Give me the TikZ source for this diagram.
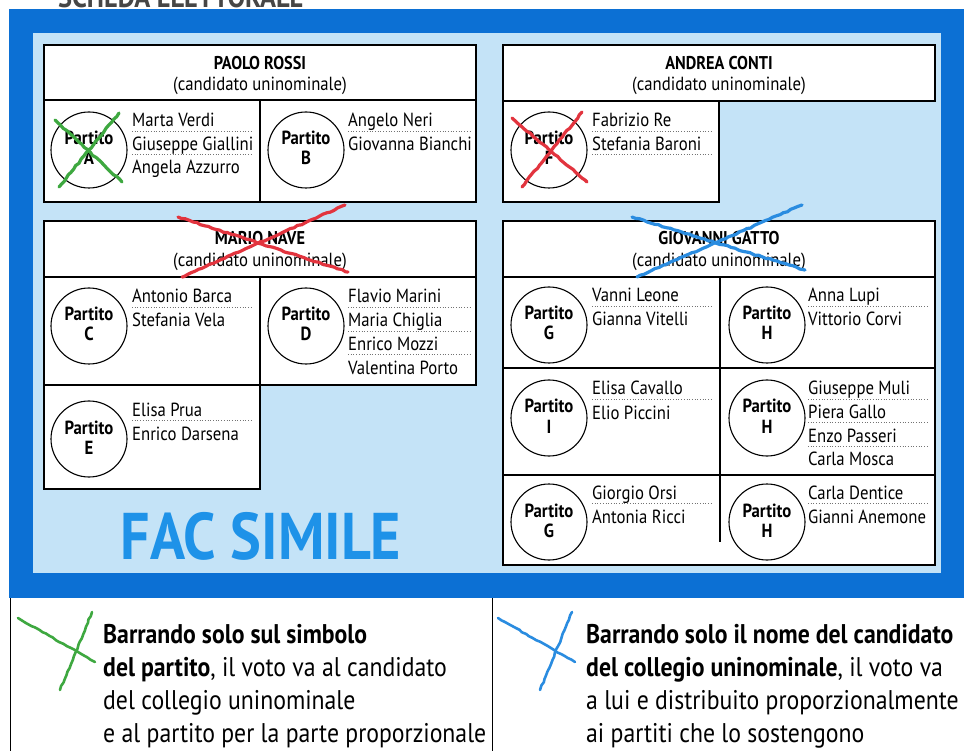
\documentclass[tikz,border=0pt]{standalone}
\usepackage{fontspec}
\setmainfont[FakeStretch=0.88]{PT Sans}
\usetikzlibrary{decorations.pathmorphing}
\definecolor{frameblue}{RGB}{12,112,212}
\definecolor{lightblue}{RGB}{196,227,247}
\definecolor{facblue}{RGB}{30,146,232}
\definecolor{xgreen}{RGB}{62,168,64}
\definecolor{xred}{RGB}{226,52,62}
\definecolor{xblue}{RGB}{42,140,224}
\definecolor{titlegray}{RGB}{70,70,70}
\tikzset{
  box/.style={draw=black, line width=1.3pt, fill=white},
  rule/.style={draw=black, line width=1.3pt},
  hdrname/.style={font=\bfseries\fontsize{18.5}{18.5}\selectfont, anchor=base, inner sep=0pt},
  hdrsub/.style={font=\fontsize{19}{19}\selectfont, anchor=base, inner sep=0pt},
  pcircle/.style={draw=black, circle, minimum size=76pt, line width=1.1pt, inner sep=0pt},
  ptext/.style={font=\bfseries\fontsize{19}{19}\selectfont, anchor=base, inner sep=0pt},
  cname/.style={font=\fontsize{19}{19}\selectfont, anchor=base west, inner sep=0pt},
  dotline/.style={draw=black!55, dotted, line width=0.7pt},
  crayon/.style={line width=3.2pt, line cap=round, decorate,
    decoration={random steps, segment length=4pt, amplitude=0.6pt}},
  notetext/.style={font=\fontsize{27}{33}\selectfont, anchor=base west, inner sep=0pt},
  facs/.style={font=\bfseries\fontsize{66}{66}\selectfont, text=facblue, anchor=base, inner sep=0pt},
  toptitle/.style={font=\bfseries\fontsize{30}{30}\selectfont, text=titlegray, anchor=base west, inner sep=0pt}
}
\newcommand\partito[4]{%
  \node[pcircle] (#1) at ({#2},{#3}) {};
  \node[ptext] (#1-p) at ({#2},{#3-5}) {Partito};
  \node[ptext] (#1-l) at ({#2},{#3+15}) {#4};
}
\newcommand\dotsunder[3]{\draw[dotline] ({#2},{#1}) -- ({#3},{#1});}
\begin{document}
\begin{tikzpicture}[x=1pt,y=-1pt]
\useasboundingbox (0,0) rectangle (967,751);
\fill[white] (0,0) rectangle (967,751);
\begin{scope}
  \clip (0,0) rectangle (967,9);
  \node[toptitle] (title) at (58,8) {SCHEDA ELETTORALE};
\end{scope}
\fill[frameblue] (9,9) rectangle (964,598);
\fill[lightblue] (33,33) rectangle (941,573);

% ---------------- PAOLO ROSSI
\draw[box] (44,45) rectangle (476,202);
\draw[rule] (44,100) -- (476,100);
\draw[rule] (260,100) -- (260,202);
\node[hdrname] (prn) at (260,70) {PAOLO ROSSI};
\node[hdrsub] (prs) at (260,91) {(candidato uninominale)};
\partito{pA}{89}{150}{A}
\node[cname] (a1) at (132,127) {Marta Verdi};
\node[cname] (a2) at (132,150.5) {Giuseppe Giallini};
\node[cname] (a3) at (132,174) {Angela Azzurro};
\dotsunder{131}{132}{252}\dotsunder{154.5}{132}{252}
\partito{pB}{306}{150}{B}
\node[cname] (b1) at (348,127) {Angelo Neri};
\node[cname] (b2) at (348,150.5) {Giovanna Bianchi};
\dotsunder{131}{348}{470}

% ---------------- ANDREA CONTI
\draw[box] (503,45) rectangle (935,101);
\draw[box] (503,101) rectangle (719,202);
\node[hdrname] (acn) at (719,70) {ANDREA CONTI};
\node[hdrsub] (acs) at (719,91) {(candidato uninominale)};
\partito{pF}{549}{150}{F}
\node[cname] (f1) at (592,127) {Fabrizio Re};
\node[cname] (f2) at (592,150.5) {Stefania Baroni};
\dotsunder{131}{592}{711}\dotsunder{154.5}{592}{711}

% ---------------- MARIO NAVE
\draw[box] (44,221) rectangle (476,385);
\draw[rule] (44,277) -- (476,277);
\draw[rule] (260,277) -- (260,385);
\draw[box] (44,385) rectangle (260,489);
\node[hdrname] (mnn) at (260,245) {MARIO NAVE};
\node[hdrsub] (mns) at (260,267) {(candidato uninominale)};
\partito{pC}{89}{326}{C}
\node[cname] (c1) at (132,303) {Antonio Barca};
\node[cname] (c2) at (132,327) {Stefania Vela};
\dotsunder{307}{132}{252}
\partito{pD}{306}{326}{D}
\node[cname] (d1) at (348,303) {Flavio Marini};
\node[cname] (d2) at (348,327) {Maria Chiglia};
\node[cname] (d3) at (348,350.5) {Enrico Mozzi};
\node[cname] (d4) at (348,374) {Valentina Porto};
\dotsunder{307}{348}{470}\dotsunder{331}{348}{470}\dotsunder{354.5}{348}{470}
\partito{pE}{89}{439}{E}
\node[cname] (e1) at (132,416) {Elisa Prua};
\node[cname] (e2) at (132,440) {Enrico Darsena};
\dotsunder{420}{132}{252}

% ---------------- GIOVANNI GATTO
\draw[box] (503,221) rectangle (935,565);
\draw[rule] (503,277) -- (935,277);
\draw[rule] (503,368) -- (935,368);
\draw[rule] (503,475) -- (935,475);
\draw[rule] (720,277) -- (720,542);
\node[hdrname] (ggn) at (719,245) {GIOVANNI GATTO};
\node[hdrsub] (ggs) at (719,267) {(candidato uninominale)};
\partito{pG1}{549}{325}{G}
\node[cname] (g1) at (592,302) {Vanni Leone};
\node[cname] (g2) at (592,326) {Gianna Vitelli};
\dotsunder{306}{592}{712}
\partito{pH1}{767}{325}{H}
\node[cname] (h1) at (808,302) {Anna Lupi};
\node[cname] (h2) at (808,326) {Vittorio Corvi};
\dotsunder{306}{808}{928}
\partito{pI}{549}{418}{I}
\node[cname] (i1) at (592,395) {Elisa Cavallo};
\node[cname] (i2) at (592,419) {Elio Piccini};
\dotsunder{399}{592}{712}
\partito{pH2}{767}{418}{H}
\node[cname] (k1) at (808,395) {Giuseppe Muli};
\node[cname] (k2) at (808,418.5) {Piera Gallo};
\node[cname] (k3) at (808,442) {Enzo Passeri};
\node[cname] (k4) at (808,465.5) {Carla Mosca};
\dotsunder{399}{808}{928}\dotsunder{422.5}{808}{928}\dotsunder{446}{808}{928}
\partito{pG2}{549}{522}{G}
\node[cname] (m1) at (592,499) {Giorgio Orsi};
\node[cname] (m2) at (592,523) {Antonia Ricci};
\dotsunder{503}{592}{712}
\partito{pH3}{767}{522}{H}
\node[cname] (n1) at (808,499) {Carla Dentice};
\node[cname] (n2) at (808,523) {Gianni Anemone};
\dotsunder{503}{808}{928}

% ---------------- FAC SIMILE
\node[facs] (fac) at (261,559) {FAC SIMILE};

% ---------------- crosses
\draw[crayon, xgreen] (55,120) -- (122,182);
\draw[crayon, xgreen] (119,113) -- (59,187);
\draw[crayon, xred] (512,118) -- (587,182);
\draw[crayon, xred] (582,112) -- (522,187);
\draw[crayon, xred] (178,217) -- (348,272);
\draw[crayon, xred] (345,205) -- (182,277);
\draw[crayon, xblue] (632,217) -- (805,270);
\draw[crayon, xblue] (802,205) -- (637,277);

% ---------------- legend
\draw[line width=1pt] (10,598) -- (10,751);
\draw[line width=1pt] (492,598) -- (492,751);
\draw[crayon, xgreen, line width=2.6pt] (18,618) -- (95,662);
\draw[crayon, xgreen, line width=2.6pt] (92,612) -- (60,690);
\draw[crayon, xblue, line width=2.6pt] (498,618) -- (575,662);
\draw[crayon, xblue, line width=2.6pt] (572,612) -- (540,690);
\node[notetext] (l1) at (103,643) {\bfseries Barrando solo sul simbolo};
\node[notetext] (l2) at (103,676) {\textbf{del partito}, il voto va al candidato};
\node[notetext] (l3) at (103,709) {del collegio uninominale};
\node[notetext] (l4) at (103,742) {e al partito per la parte proporzionale};
\node[notetext] (r1) at (586,643) {\bfseries Barrando solo il nome del candidato};
\node[notetext] (r2) at (586,676) {\textbf{del collegio uninominale}, il voto va};
\node[notetext] (r3) at (586,709) {a lui e distribuito proporzionalmente};
\node[notetext] (r4) at (586,742) {ai partiti che lo sostengono};
\end{tikzpicture}
\end{document}
